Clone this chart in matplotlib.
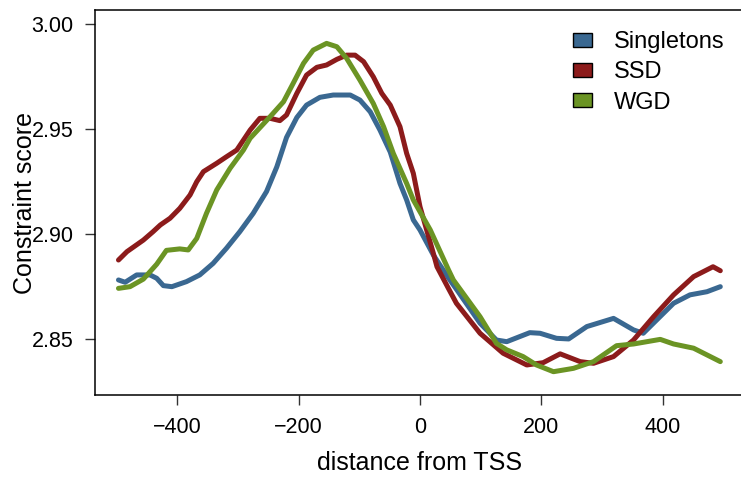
import numpy as np
import matplotlib
matplotlib.use("Agg")
import matplotlib.pyplot as plt
from matplotlib.patches import Patch

plt.rcParams["font.family"] = ["Liberation Sans", "DejaVu Sans"]

# distance from TSS / constraint score
single_x = [-497, -486, -467, -445, -434, -423, -409, -385, -363, -341, -319, -297, -275, -253,
            -236, -220, -203, -187, -165, -143, -115, -99, -82, -66, -49, -33, -22, -11, 0, 22,
            47, 61, 99, 126, 143, 181, 198, 225, 245, 275, 319, 352, 368, 390, 418, 445, 473, 495]
single_y = [2.8781, 2.8770, 2.8805, 2.8805, 2.8789, 2.8754, 2.8749, 2.8773, 2.8805, 2.8860,
            2.8932, 2.9011, 2.9098, 2.9202, 2.9320, 2.9460, 2.9555, 2.9614, 2.9651, 2.9662,
            2.9662, 2.9638, 2.9582, 2.9495, 2.9390, 2.9241, 2.9162, 2.9067, 2.9019, 2.8900,
            2.8790, 2.8733, 2.8575, 2.8495, 2.8487, 2.8530, 2.8527, 2.8503, 2.8500, 2.8559,
            2.8598, 2.8543, 2.8527, 2.8590, 2.8670, 2.8710, 2.8725, 2.8749]

ssd_x = [-497, -483, -456, -440, -428, -412, -396, -379, -368, -357, -335, -319, -302, -280,
         -264, -247, -231, -220, -203, -187, -170, -154, -137, -121, -107, -93, -77, -63, -49,
         -33, -22, -11, 0, 22, 28, 47, 60, 99, 137, 176, 203, 231, 264, 286, 319, 352, 385,
         418, 451, 483, 495]
ssd_y = [2.8876, 2.8916, 2.8971, 2.9011, 2.9043, 2.9075, 2.9122, 2.9186, 2.9249, 2.9297,
         2.9337, 2.9368, 2.9400, 2.9495, 2.9551, 2.9551, 2.9540, 2.9567, 2.9670, 2.9757,
         2.9794, 2.9805, 2.9832, 2.9852, 2.9852, 2.9821, 2.9749, 2.9670, 2.9614, 2.9511,
         2.9384, 2.9289, 2.9130, 2.8908, 2.8844, 2.8740, 2.8670, 2.8527, 2.8432, 2.8376,
         2.8387, 2.8429, 2.8392, 2.8384, 2.8416, 2.8495, 2.8606, 2.8710, 2.8797, 2.8844,
         2.8825]

wgd_x = [-497, -478, -456, -434, -418, -396, -382, -368, -352, -335, -313, -291, -280, -247,
         -225, -209, -192, -176, -154, -137, -121, -99, -77, -60, -44, -22, -11, 17, 47, 55,
         99, 126, 143, 170, 192, 220, 253, 286, 324, 352, 396, 418, 451, 495]
wgd_y = [2.8741, 2.8749, 2.8785, 2.8856, 2.8922, 2.8929, 2.8924, 2.8979, 2.9098, 2.9210,
         2.9313, 2.9400, 2.9456, 2.9559, 2.9630, 2.9718, 2.9813, 2.9876, 2.9908, 2.9892,
         2.9837, 2.9733, 2.9622, 2.9511, 2.9384, 2.9241, 2.9162, 2.9019, 2.8829, 2.8781,
         2.8606, 2.8479, 2.8448, 2.8416, 2.8376, 2.8344, 2.8360, 2.8392, 2.8468, 2.8476,
         2.8498, 2.8476, 2.8456, 2.8392]

labels = ["Singletons", "SSD", "WGD"]
colors = ["#3a6891", "#8c1b1b", "#6b9424"]

fig = plt.figure(figsize=(7.41, 4.79), dpi=100)
ax = fig.add_axes([95 / 741, 84 / 479, 650 / 741, 385 / 479])

for xs, ys, c in zip([single_x, ssd_x, wgd_x], [single_y, ssd_y, wgd_y], colors):
    ax.plot(xs, ys, color=c, lw=3.6, solid_capstyle="round", solid_joinstyle="round")

ax.set_xlim(-535.7, 535.7)
ax.set_ylim(2.8233, 3.0067)
ax.set_xticks([-400, -200, 0, 200, 400])
ax.set_yticks([2.85, 2.90, 2.95, 3.00])
ax.set_yticklabels(["2.85", "2.90", "2.95", "3.00"])
ax.tick_params(labelsize=15.5, length=7.5, width=1, pad=8, color="#333333")
for s in ax.spines.values():
    s.set_linewidth(1.1)

ax.set_xlabel("distance from TSS", fontsize=18, labelpad=10)
ax.set_ylabel("Constraint score", fontsize=18)
ax.yaxis.set_label_coords((37 - 95) / 650, 0.5)

handles = [Patch(facecolor=c, edgecolor="black", lw=1) for c in colors]
fig.legend(handles, labels, loc="upper left", bbox_to_anchor=(573 / 741, 1 - 31 / 479),
           frameon=False, fontsize=17, handlelength=0.8, handleheight=0.55,
           handletextpad=0.95, labelspacing=0.35, borderpad=0, borderaxespad=0)

fig.savefig("out.png", dpi=100)
